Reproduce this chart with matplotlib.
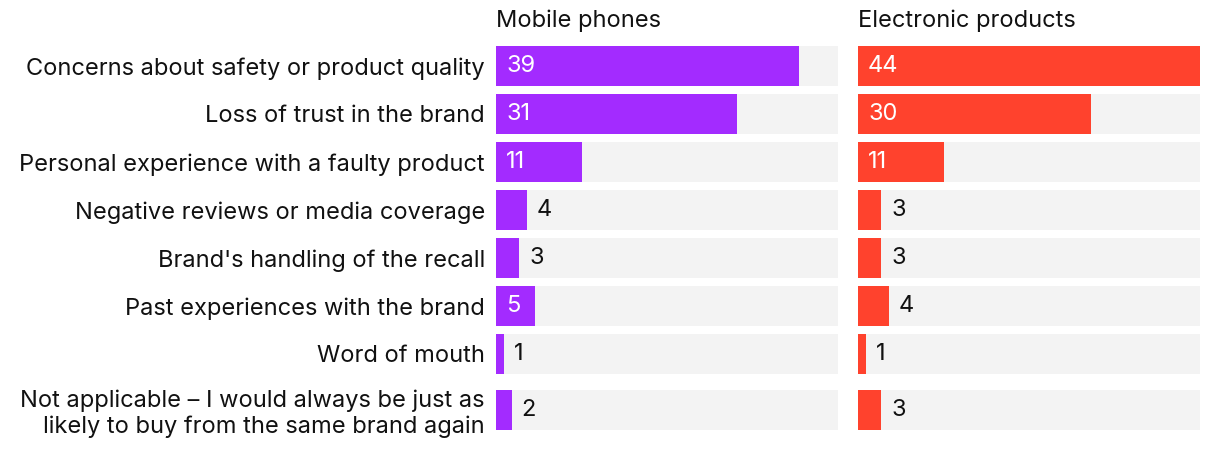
import matplotlib.pyplot as plt

# ── data ────────────────────────────────────────────────────────────────
categories = [
    "Concerns about safety or product quality",
    "Loss of trust in the brand",
    "Personal experience with a faulty product",
    "Negative reviews or media coverage",
    "Brand's handling of the recall",
    "Past experiences with the brand",
    "Word of mouth",
    "Not applicable \u2013 I would always be just as\nlikely to buy from the same brand again",
]
mobile = [39, 31, 11, 4, 3, 5, 1, 2]
electronic = [44, 30, 11, 3, 3, 4, 1, 3]
panel_titles = ["Mobile phones", "Electronic products"]

PURPLE = "#A32BFF"
RED = "#FF422D"
TRACK = "#F3F3F3"
XMAX = 44
FS = 17

plt.rcParams['font.family'] = ['Inter', 'DejaVu Sans']

W, H = 1220, 450
fig = plt.figure(figsize=(W / 100, H / 100), dpi=100)

# row centres in pixels (last row sits a bit lower because of its 2-line label)
ys = [66 + 48 * i for i in range(len(categories))]
ys[-1] += 8
bar_h = 40


def panel(x0, values, color, title, show_labels):
    ax = fig.add_axes([x0 / W, 0, 342 / W, 1])
    ax.set_xlim(0, XMAX)
    ax.set_ylim(H, 0)
    ax.barh(ys, [XMAX] * len(ys), height=bar_h, color=TRACK, linewidth=0)
    ax.barh(ys, values, height=bar_h, color=color, linewidth=0)
    px = XMAX / 342  # data units per pixel
    for y, v in zip(ys, values):
        if v >= 5:
            ax.text(10 * px, y, str(v), color="white", va="center",
                    ha="left", fontsize=FS)
        else:
            ax.text(v + 10 * px, y, str(v), color="#111111", va="center",
                    ha="left", fontsize=FS)
    ax.text(0, 21, title, ha="left", va="center", fontsize=FS, color="#111111")
    ax.set_xticks([])
    if show_labels:
        ax.set_yticks(ys)
        ax.set_yticklabels(categories, fontsize=FS, color="#111111",
                           linespacing=1.15)
        ax.tick_params(axis="y", length=0, pad=8)
    else:
        ax.set_yticks([])
    for s in ax.spines.values():
        s.set_visible(False)
    return ax


panel(496, mobile, PURPLE, panel_titles[0], True)
panel(858, electronic, RED, panel_titles[1], False)

fig.savefig("out.png", dpi=100, facecolor="white")
